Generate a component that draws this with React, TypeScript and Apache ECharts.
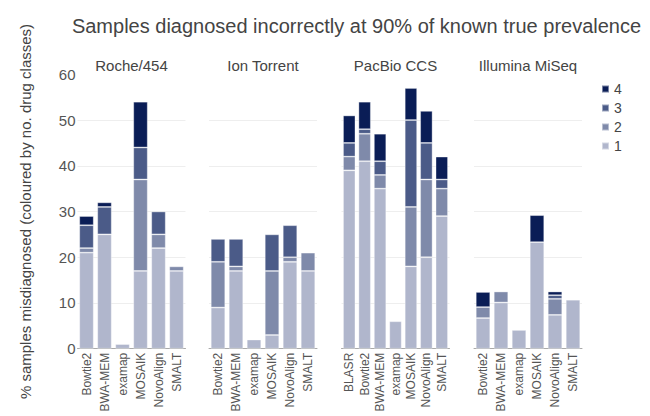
import React, { useEffect, useRef } from "react";
import * as echarts from "echarts";

const chartTitle = "Samples diagnosed incorrectly at 90% of known true prevalence";
const panelTitles = ["Roche/454", "Ion Torrent", "PacBio CCS", "Illumina MiSeq"];
const baseCats = ["Bowtie2", "BWA-MEM", "examap", "MOSAIK", "NovoAlign", "SMALT"];
const pacCats = ["BLASR", "Bowtie2", "BWA-MEM", "examap", "MOSAIK", "NovoAlign", "SMALT"];
const classNames = ["1", "2", "3", "4"];
const yTicks = [0, 10, 20, 30, 40, 50, 60];

// Roche/454
const roche1 = [21, 25, 1, 17, 22, 17];
const roche2 = [1, 0, 0, 20, 3, 1];
const roche3 = [5, 6, 0, 7, 5, 0];
const roche4 = [2, 1, 0, 10, 0, 0];
// Ion Torrent
const ion1 = [9, 17, 2, 3, 19, 17];
const ion2 = [10, 1, 0, 14, 1, 4];
const ion3 = [5, 6, 0, 8, 7, 0];
const ion4 = [0, 0, 0, 0, 0, 0];
// PacBio CCS
const pac1 = [39, 41, 35, 6, 18, 20, 29];
const pac2 = [3, 6, 3, 0, 13, 17, 6];
const pac3 = [3, 1, 3, 0, 19, 8, 2];
const pac4 = [6, 6, 6, 0, 7, 7, 5];
// Illumina MiSeq
const ill1 = [6.7, 10.1, 4.1, 23.3, 7.4, 10.7];
const ill2 = [2.4, 2.4, 0, 0, 3.5, 0];
const ill3 = [0, 0, 0, 0, 0.8, 0];
const ill4 = [3.3, 0, 0, 5.9, 0.8, 0];

const panelCats = [baseCats, baseCats, pacCats, baseCats];
const panelData = [
  [roche1, roche2, roche3, roche4],
  [ion1, ion2, ion3, ion4],
  [pac1, pac2, pac3, pac4],
  [ill1, ill2, ill3, ill4],
];

const colors = ["#b0b6cc", "#7f8aaa", "#4b5b88", "#0a1d56"];
const gridLefts = [77.5, 209, 341.5, 474];
const gridWidth = 108;
const gridTop = 74.3;
const gridHeight = 274.4;
const font = "'Liberation Sans', Arial, sans-serif";

export default function App() {
  const ref = useRef<HTMLDivElement>(null);
  useEffect(() => {
    if (!ref.current) return;
    const chart = echarts.init(ref.current, undefined, { renderer: "svg" });
    const grids = gridLefts.map((l) => ({ left: l, top: gridTop, width: gridWidth, height: gridHeight }));
    const xAxes = panelCats.map((cats, i) => ({
      type: "category",
      gridIndex: i,
      data: cats,
      axisLine: { show: true, lineStyle: { color: "#aaaaaa", width: 1 } },
      axisTick: { show: false },
      axisLabel: { rotate: 90, fontSize: 12, color: "#555555", fontFamily: font, margin: 4, interval: 0 },
    }));
    const yAxes = panelCats.map((_, i) => ({
      type: "value",
      gridIndex: i,
      min: yTicks[0],
      max: yTicks[yTicks.length - 1],
      interval: 10,
      axisLine: { show: false },
      axisTick: { show: false },
      axisLabel: { show: i === 0, fontSize: 15, color: "#555555", fontFamily: font, margin: 2 },
      splitLine: {
        show: true,
        lineStyle: { color: ["transparent", "#eeeeee", "#eeeeee", "#eeeeee", "#eeeeee", "#eeeeee", "transparent"], width: 1 },
      },
      name: i === 0 ? "% samples misdiagnosed (coloured by no. drug classes)" : "",
      nameLocation: "middle",
      nameGap: 45,
      nameTextStyle: { fontSize: 15, color: "#444444", fontFamily: font },
    }));
    const series: any[] = [];
    panelData.forEach((arrs, p) => {
      arrs.forEach((arr, k) => {
        series.push({
          type: "bar",
          name: classNames[k],
          xAxisIndex: p,
          yAxisIndex: p,
          stack: "panel" + p,
          data: arr.map((v) => (v === 0 ? null : v)),
          barCategoryGap: "20%",
          itemStyle: { color: colors[k], borderColor: "rgba(255,255,255,0.45)", borderWidth: 0.8 },
        });
      });
    });
    const graphics: any[] = [
      {
        type: "text",
        x: 356.5,
        y: 26,
        style: { text: chartTitle, fontSize: 20, fill: "#444444", fontFamily: font, textAlign: "center", textVerticalAlign: "middle" },
      },
      ...panelTitles.map((t, i) => ({
        type: "text",
        x: gridLefts[i] + gridWidth / 2,
        y: 65,
        style: { text: t, fontSize: 15, fill: "#444444", fontFamily: font, textAlign: "center", textVerticalAlign: "middle" },
      })),
    ];
    chart.setOption({
      animation: false,
      backgroundColor: "#ffffff",
      legend: {
        data: ["4", "3", "2", "1"],
        orient: "vertical",
        left: 596,
        top: 77,
        icon: "rect",
        itemWidth: 7,
        itemHeight: 7,
        itemGap: 5,
        textStyle: { fontSize: 14, color: "#444444", fontFamily: font, lineHeight: 14 },
      },
      graphic: graphics,
      grid: grids,
      xAxis: xAxes,
      yAxis: yAxes,
      series,
    });
    return () => chart.dispose();
  }, []);
  return <div ref={ref} style={{ position: "fixed", left: 0, top: 0, width: 650, height: 416 }} />;
}
